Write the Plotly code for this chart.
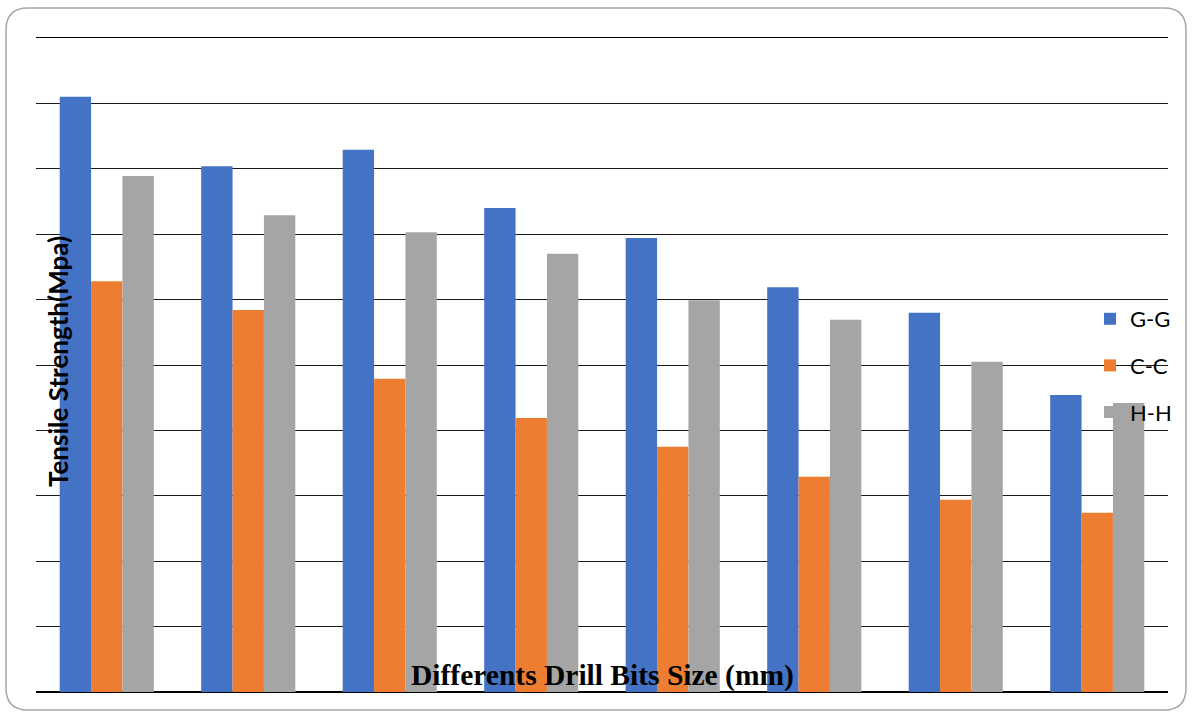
import plotly.graph_objects as go

categories = ["1", "2", "3", "4", "5", "6", "7", "8"]
gg = [9.10, 8.04, 8.29, 7.40, 6.94, 6.19, 5.80, 4.54]
cc = [6.28, 5.84, 4.79, 4.19, 3.75, 3.29, 2.94, 2.74]
hh = [7.89, 7.29, 7.03, 6.70, 5.99, 5.69, 5.05, 4.42]
series_names = ["G-G", "C-C", "H-H"]
colors = ["#4472C4", "#ED7D31", "#A5A5A5"]

W, H = 1192, 716
L, R, T, B = 36, 24, 38, 24
pw, ph = W - L - R, H - T - B

def px(x):
    return (x - L) / pw

def py(y):
    return (H - B - y) / ph

fig = go.Figure()
for name, vals, col in zip(series_names, [gg, cc, hh], colors):
    fig.add_trace(go.Bar(
        x=categories, y=vals, name=name, legendgroup=name,
        marker=dict(color=col, line=dict(width=0)),
    ))

# rounded outer border
x0, x1, y0, y1 = px(6), px(1186), py(710), py(8)
rx, ry = 22 / pw, 22 / ph
path = (f"M {x0+rx},{y1} L {x1-rx},{y1} Q {x1},{y1} {x1},{y1-ry} "
        f"L {x1},{y0+ry} Q {x1},{y0} {x1-rx},{y0} "
        f"L {x0+rx},{y0} Q {x0},{y0} {x0},{y0+ry} "
        f"L {x0},{y1-ry} Q {x0},{y1} {x0+rx},{y1} Z")
fig.add_shape(type="path", path=path, xref="paper", yref="paper",
              line=dict(color="#A6A6A6", width=1.5), layer="below")

fig.update_layout(
    width=W, height=H,
    margin=dict(l=L, r=R, t=T, b=B, autoexpand=False),
    paper_bgcolor="white", plot_bgcolor="white",
    barmode="group", bargap=0.335, bargroupgap=0,
    showlegend=True,
    legend=dict(x=px(1090), y=py(298), xanchor="left", yanchor="top",
                bgcolor="rgba(0,0,0,0)", font=dict(family="Lato", size=22, color="#000"),
                tracegroupgap=15, itemwidth=30),
    xaxis=dict(showticklabels=False, showgrid=False, zeroline=False,
               showline=True, mirror=True, linecolor="#000", linewidth=1.2,
               ticks=""),
    yaxis=dict(range=[0, 10], dtick=1, showticklabels=False, showgrid=True,
               gridcolor="#1a1a1a", gridwidth=1.2, zeroline=True,
               zerolinecolor="#000", zerolinewidth=1.5, ticks="", showline=False),
    annotations=[
        dict(text="<b>Differents Drill Bits Size (mm)</b>", xref="paper", yref="paper",
             x=px(602), y=py(675), xanchor="center", yanchor="middle", showarrow=False,
             font=dict(family="Liberation Serif", size=29.5, color="#000")),
        dict(text="<b>Tensile Strength(Mpa)</b>", xref="paper", yref="paper",
             x=px(58), y=py(362), xanchor="center", yanchor="middle", showarrow=False,
             textangle=-90, font=dict(family="Lato", size=26, color="#000")),
    ],
)

fig.write_html("out.html")
